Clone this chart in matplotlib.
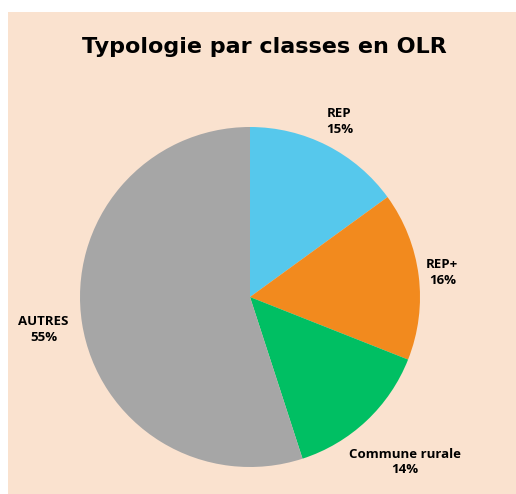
import numpy as np
import matplotlib
matplotlib.use('Agg')
from matplotlib import pyplot as plt
from matplotlib.patches import Rectangle

# data
labels = ['REP', 'REP+', 'Commune rurale', 'AUTRES']
values = [15, 16, 14, 55]
colors = ['#56C8EC', '#F28A1E', '#00BF63', '#A6A6A6']
label_dist = [1.16, 1.14, 1.33, 1.23]

bg = '#FAE2CF'

fig = plt.figure(figsize=(5.16, 4.94), dpi=100)
fig.patch.set_facecolor('white')
fig.patches.append(Rectangle((8 / 516, 0), 1, 482 / 494, transform=fig.transFigure,
                             facecolor=bg, edgecolor='none', zorder=-10))

ax = fig.add_axes([(250 - 170) / 516, (494 - 297 - 170) / 494, 340 / 516, 340 / 494])
ax.set_facecolor('none')

wedges, _ = ax.pie(values, colors=colors, startangle=90, counterclock=False,
                   wedgeprops=dict(linewidth=0))
ax.set_xlim(-1, 1)
ax.set_ylim(-1, 1)
ax.set_aspect('equal')
ax.axis('off')

for w, lab, v, d in zip(wedges, labels, values, label_dist):
	ang = np.deg2rad((w.theta1 + w.theta2) / 2)
	ax.text(d * np.cos(ang), d * np.sin(ang), lab + '\n' + str(v) + '%',
			ha='center', va='center', fontsize=9.5, fontweight='bold',
			family='Open Sans', linespacing=1.25, clip_on=False)

fig.text(0.513, 0.905, 'Typologie par classes en OLR', ha='center', va='center',
		 fontsize=16, fontweight='bold', family='DejaVu Sans')

fig.savefig('out.png', dpi=100)
